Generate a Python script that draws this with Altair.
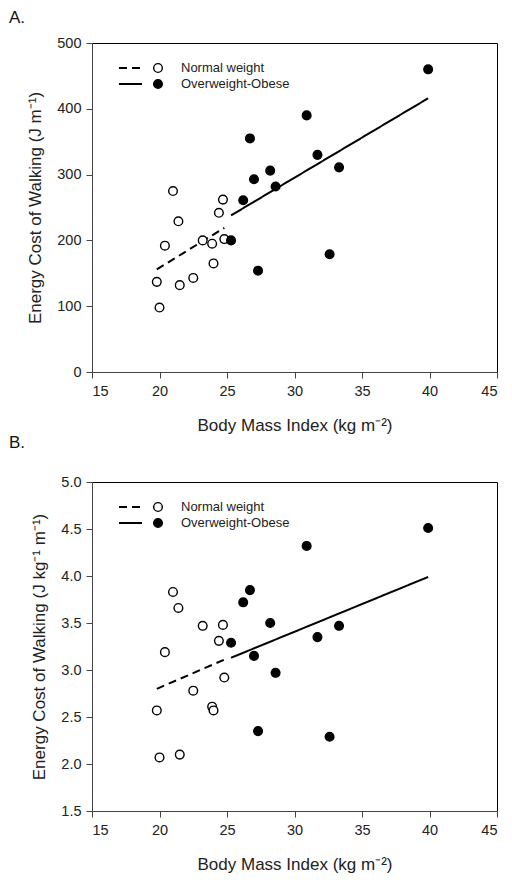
import altair as alt
import pandas as pd

# ---------------- data ----------------
groups = ["Normal weight", "Overweight-Obese"]

bmi_normal = [19.8, 20.0, 20.4, 21.0, 21.4, 21.5, 22.5, 23.2, 23.9, 24.0, 24.4, 24.7, 24.8]
bmi_over = [25.3, 26.2, 26.7, 27.0, 27.3, 28.2, 28.6, 30.9, 31.7, 32.6, 33.3, 39.9]

# Panel A: energy cost of walking (J m^-1)
ecw_normal = [137, 98, 192, 275, 229, 132, 143, 200, 195, 165, 242, 262, 202]
ecw_over = [200, 261, 355, 293, 154, 306, 282, 390, 330, 179, 311, 460]

# Panel B: energy cost of walking (J kg^-1 m^-1)
ecwkg_normal = [2.57, 2.07, 3.19, 3.83, 3.66, 2.10, 2.78, 3.47, 2.61, 2.57, 3.31, 3.48, 2.92]
ecwkg_over = [3.29, 3.72, 3.85, 3.15, 2.35, 3.50, 2.97, 4.32, 3.35, 2.29, 3.47, 4.51]

# regression line end points
fit_x_normal = [19.8, 24.8]
fit_x_over = [25.3, 39.9]
fitA_normal = [156, 219]
fitA_over = [238, 416]
fitB_normal = [2.80, 3.11]
fitB_over = [3.13, 3.99]

x_ticks = [15, 20, 25, 30, 35, 40, 45]
yA_ticks = [0, 100, 200, 300, 400, 500]
yB_ticks = [1.5, 2.0, 2.5, 3.0, 3.5, 4.0, 4.5, 5.0]

FONT = "Liberation Sans"
W, H = 405, 329

dash_scale = alt.Scale(domain=groups, range=[[8, 5], [1, 0]])
fill_scale = alt.Scale(domain=groups, range=["white", "black"])


def panel(letter, letter_y, y_norm, y_over, fit_norm, fit_over, ydomain, yticks, yfmt, ytitle):
    pts = pd.DataFrame({
        "bmi": bmi_normal + bmi_over,
        "y": y_norm + y_over,
        "group": [groups[0]] * len(bmi_normal) + [groups[1]] * len(bmi_over),
    })
    fit = pd.DataFrame({
        "bmi": fit_x_normal + fit_x_over,
        "y": fit_norm + fit_over,
        "group": [groups[0]] * 2 + [groups[1]] * 2,
    })
    leg = pd.DataFrame({"group": groups, "ly": [25, 41]})

    x = alt.X("bmi:Q", scale=alt.Scale(domain=[15, 45], nice=False),
              axis=alt.Axis(values=x_ticks, title="Body Mass Index (kg m⁻²)"))
    y = alt.Y("y:Q", scale=alt.Scale(domain=ydomain, nice=False, zero=False),
              axis=alt.Axis(values=yticks, format=yfmt, title=ytitle))

    lines = alt.Chart(fit).mark_line(color="black", strokeWidth=2).encode(
        x=x, y=y,
        strokeDash=alt.StrokeDash("group:N", scale=dash_scale, legend=None),
    )
    points = alt.Chart(pts).mark_point(
        shape="circle", filled=True, size=75, stroke="black", strokeWidth=1.4, opacity=1
    ).encode(
        x=x, y=y,
        fill=alt.Fill("group:N", scale=fill_scale, legend=None),
    )
    leg_lines = alt.Chart(leg).mark_rule(color="black", strokeWidth=2).encode(
        x=alt.value(27), x2=alt.value(50),
        y=alt.Y("ly:Q", scale=None),
        strokeDash=alt.StrokeDash("group:N", scale=dash_scale, legend=None),
    )
    leg_pts = alt.Chart(leg).mark_point(
        shape="circle", filled=True, size=75, stroke="black", strokeWidth=1.4, opacity=1
    ).encode(
        x=alt.value(66),
        y=alt.Y("ly:Q", scale=None),
        fill=alt.Fill("group:N", scale=fill_scale, legend=None),
    )
    leg_txt = alt.Chart(leg).mark_text(
        align="left", baseline="middle", font=FONT, fontSize=13, color="#222"
    ).encode(
        x=alt.value(89),
        y=alt.Y("ly:Q", scale=None),
        text="group:N",
    )
    lab = alt.Chart(pd.DataFrame({"t": [letter]})).mark_text(
        align="left", baseline="alphabetic", font=FONT, fontSize=17, color="#111"
    ).encode(x=alt.value(-83), y=alt.value(letter_y), text="t:N")

    return alt.layer(lines, points, leg_lines, leg_pts, leg_txt, lab).properties(width=W, height=H)


A = panel("A.", -20, ecw_normal, ecw_over, fitA_normal, fitA_over, [0, 500], yA_ticks, "d",
          "Energy Cost of Walking (J m⁻¹)")
B = panel("B.", -34, ecwkg_normal, ecwkg_over, fitB_normal, fitB_over, [1.5, 5.0], yB_ticks, ".1f",
          "Energy Cost of Walking (J kg⁻¹ m⁻¹)")

chart = alt.vconcat(A, B, spacing=110, bounds="flush").properties(
    padding={"left": 0, "top": 0, "right": 4, "bottom": 4}
).configure_view(
    stroke="black", strokeWidth=1
).configure_axis(
    labelFont=FONT, titleFont=FONT, labelFontSize=14.5, titleFontSize=17,
    titleFontWeight="normal", labelColor="#222", titleColor="#222",
    domainColor="#444", tickColor="#444", tickSize=6, grid=False,
).configure_axisX(
    labelPadding=6, titlePadding=20
).configure_axisY(
    labelPadding=5, titlePadding=12
)

chart.save("out.html", embed_options={"renderer": "svg", "actions": False})
